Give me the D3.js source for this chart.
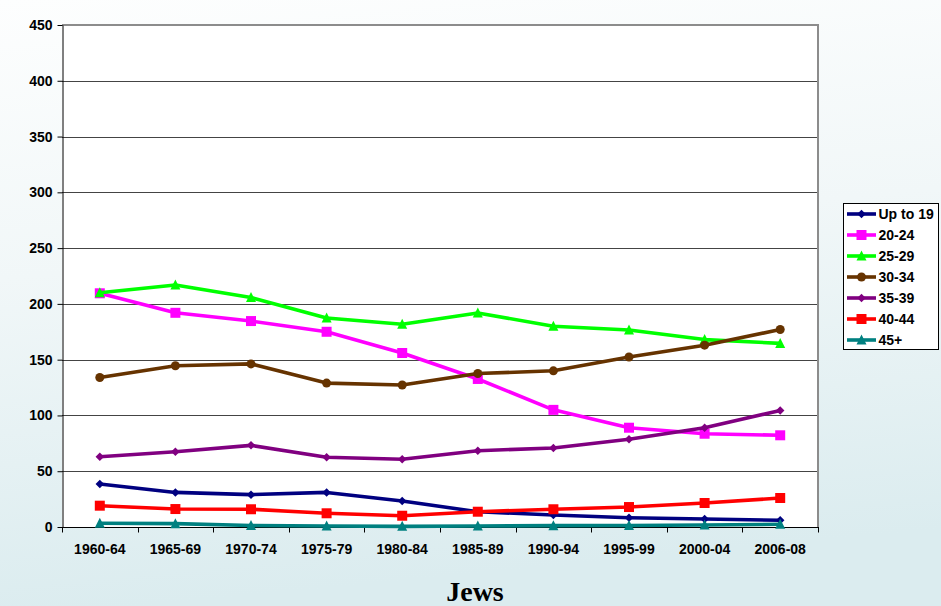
<!DOCTYPE html>
<html>
<head>
<meta charset="utf-8">
<script src="https://cdn.jsdelivr.net/npm/d3@7"></script>
<style>
  html, body { margin: 0; padding: 0; }
  body { width: 941px; height: 606px; overflow: hidden; }
  svg { display: block; font-family: "Liberation Sans", Arial, sans-serif; }
</style>
</head>
<body>
<svg id="chart" width="941" height="606"></svg>
<script>
// Periods on the x axis
const periods = ["1960-64", "1965-69", "1970-74", "1975-79", "1980-84",
                 "1985-89", "1990-94", "1995-99", "2000-04", "2006-08"];

// Age-specific rates per age group
const upTo19 = [38.5, 31, 29, 31, 23.3, 13.7, 10.8, 8.3, 7.2, 6];
const age20_24 = [209.5, 192, 184.6, 175, 156, 132.7, 105, 89, 83.6, 82.2];
const age25_29 = [210, 217, 205.7, 187.3, 181.7, 191.8, 180, 176.6, 168, 164.6];
const age30_34 = [134, 144.5, 146.2, 129, 127.3, 137.6, 140, 152.4, 163, 177];
const age35_39 = [63, 67.5, 73.2, 62.5, 60.7, 68.4, 70.8, 78.6, 89, 104.5];
const age40_44 = [19.1, 16.1, 15.9, 12.3, 10.1, 13.7, 15.9, 17.9, 21.5, 26];
const age45plus = [3.3, 3, 1.3, 0.9, 0.6, 0.9, 1.2, 1.4, 1.8, 2.4];

const yTicks = [0, 50, 100, 150, 200, 250, 300, 350, 400, 450];

const series = [
  { name: "Up to 19", values: upTo19, color: "#000080", marker: "diamond" },
  { name: "20-24", values: age20_24, color: "#ff00ff", marker: "square" },
  { name: "25-29", values: age25_29, color: "#00ff00", marker: "triangle" },
  { name: "30-34", values: age30_34, color: "#663300", marker: "circle" },
  { name: "35-39", values: age35_39, color: "#800080", marker: "diamond" },
  { name: "40-44", values: age40_44, color: "#ff0000", marker: "square" },
  { name: "45+", values: age45plus, color: "#008080", marker: "triangle" }
];

const svg = d3.select("#chart");
const W = 941, H = 606;
const plot = { left: 62, right: 818, top: 25, bottom: 527 };
const labelSize = 14;

// Page background gradient
const defs = svg.append("defs");
const grad = defs.append("linearGradient")
  .attr("id", "bg").attr("x1", 0).attr("y1", 0).attr("x2", 0.15).attr("y2", 1);
grad.append("stop").attr("offset", "0%").attr("stop-color", "#fdfefe");
grad.append("stop").attr("offset", "45%").attr("stop-color", "#f1f7f8");
grad.append("stop").attr("offset", "100%").attr("stop-color", "#dbecef");
svg.append("rect").attr("width", W).attr("height", H).attr("fill", "url(#bg)");

const x = d3.scaleBand().domain(periods).range([plot.left, plot.right]);
const y = d3.scaleLinear().domain([0, 450]).range([plot.bottom, plot.top]);
const xc = d => x(d) + x.bandwidth() / 2;

// Plot area
svg.append("rect")
  .attr("x", plot.left).attr("y", plot.top)
  .attr("width", plot.right - plot.left).attr("height", plot.bottom - plot.top)
  .attr("fill", "#ffffff");

// Gridlines
svg.append("g")
  .selectAll("line").data(yTicks.filter(t => t > 0)).join("line")
  .attr("x1", plot.left).attr("x2", plot.right)
  .attr("y1", d => Math.round(y(d)) + 0.5).attr("y2", d => Math.round(y(d)) + 0.5)
  .attr("stroke", "#444").attr("stroke-width", 1);

// Right and top border of the plot area
svg.append("path")
  .attr("d", `M${plot.left},${plot.top} H${plot.right} V${plot.bottom}`)
  .attr("fill", "none").attr("stroke", "#8c8c8c").attr("stroke-width", 2);

// Y axis
const yAxis = svg.append("g")
  .attr("transform", `translate(${plot.left + 0.5},0)`)
  .call(d3.axisLeft(y).tickValues(yTicks).tickSize(5).tickPadding(5).tickSizeOuter(0));
yAxis.select(".domain").attr("stroke", "#000");
yAxis.selectAll(".tick line").attr("stroke", "#000");
yAxis.selectAll(".tick text")
  .attr("font-size", labelSize).attr("font-weight", "bold").attr("fill", "#000")
  .attr("font-family", "'Liberation Sans', Arial, sans-serif");

// X axis with ticks between categories
const xAxis = svg.append("g")
  .attr("transform", `translate(0,${plot.bottom + 0.5})`);
xAxis.append("line")
  .attr("x1", plot.left).attr("x2", plot.right + 1)
  .attr("stroke", "#000");
const boundaries = periods.map(p => x(p)).concat([plot.right]);
xAxis.selectAll("line.tk").data(boundaries).join("line")
  .attr("class", "tk")
  .attr("x1", d => Math.round(d) + 0.5).attr("x2", d => Math.round(d) + 0.5)
  .attr("y1", 0).attr("y2", 5)
  .attr("stroke", "#000");
xAxis.selectAll("text").data(periods).join("text")
  .attr("x", d => xc(d)).attr("y", 26.5)
  .attr("text-anchor", "middle")
  .attr("font-size", labelSize).attr("font-weight", "bold").attr("fill", "#000")
  .text(d => d);

// Marker shapes
function markerPath(type, size) {
  const s = size / 2;
  switch (type) {
    case "diamond": return `M0,${-s} L${s},0 L0,${s} L${-s},0 Z`;
    case "square": return `M${-s},${-s} H${s} V${s} H${-s} Z`;
    case "triangle": return `M0,${-s - 1} L${s + 0.5},${s} L${-s - 0.5},${s} Z`;
    case "circle": return d3.symbol(d3.symbolCircle, Math.PI * s * s)();
  }
}
const markerSize = { diamond: 8.5, square: 10, triangle: 9, circle: 9 };

const line = d3.line().x((d, i) => xc(periods[i])).y(d => y(d));

const seriesG = svg.append("g");
series.forEach(s => {
  const g = seriesG.append("g");
  g.append("path")
    .attr("d", line(s.values))
    .attr("fill", "none").attr("stroke", s.color)
    .attr("stroke-width", 3.6).attr("stroke-linejoin", "round");
  g.selectAll("path.m").data(s.values).join("path")
    .attr("class", "m")
    .attr("transform", (d, i) => `translate(${xc(periods[i])},${y(d)})`)
    .attr("d", markerPath(s.marker, markerSize[s.marker]))
    .attr("fill", s.color);
});

// Legend
const legend = svg.append("g");
legend.append("rect")
  .attr("x", 843.5).attr("y", 203.5).attr("width", 95).attr("height", 146)
  .attr("fill", "#ffffff").attr("stroke", "#000").attr("stroke-width", 1);
series.forEach((s, i) => {
  const ly = 214 + i * 21;
  const row = legend.append("g");
  row.append("line")
    .attr("x1", 847).attr("x2", 876).attr("y1", ly).attr("y2", ly)
    .attr("stroke", s.color).attr("stroke-width", 3.6);
  row.append("path")
    .attr("transform", `translate(861.5,${ly})`)
    .attr("d", markerPath(s.marker, markerSize[s.marker]))
    .attr("fill", s.color);
  row.append("text")
    .attr("x", 878.5).attr("y", ly + 5)
    .attr("font-size", labelSize).attr("font-weight", "bold").attr("fill", "#000")
    .text(s.name);
});

// Title below the chart
svg.append("text")
  .attr("x", 475).attr("y", 601)
  .attr("text-anchor", "middle")
  .attr("font-family", "'Liberation Serif', 'Times New Roman', serif")
  .attr("font-size", 28).attr("font-weight", "bold").attr("fill", "#000")
  .text("Jews");
</script>
</body>
</html>
